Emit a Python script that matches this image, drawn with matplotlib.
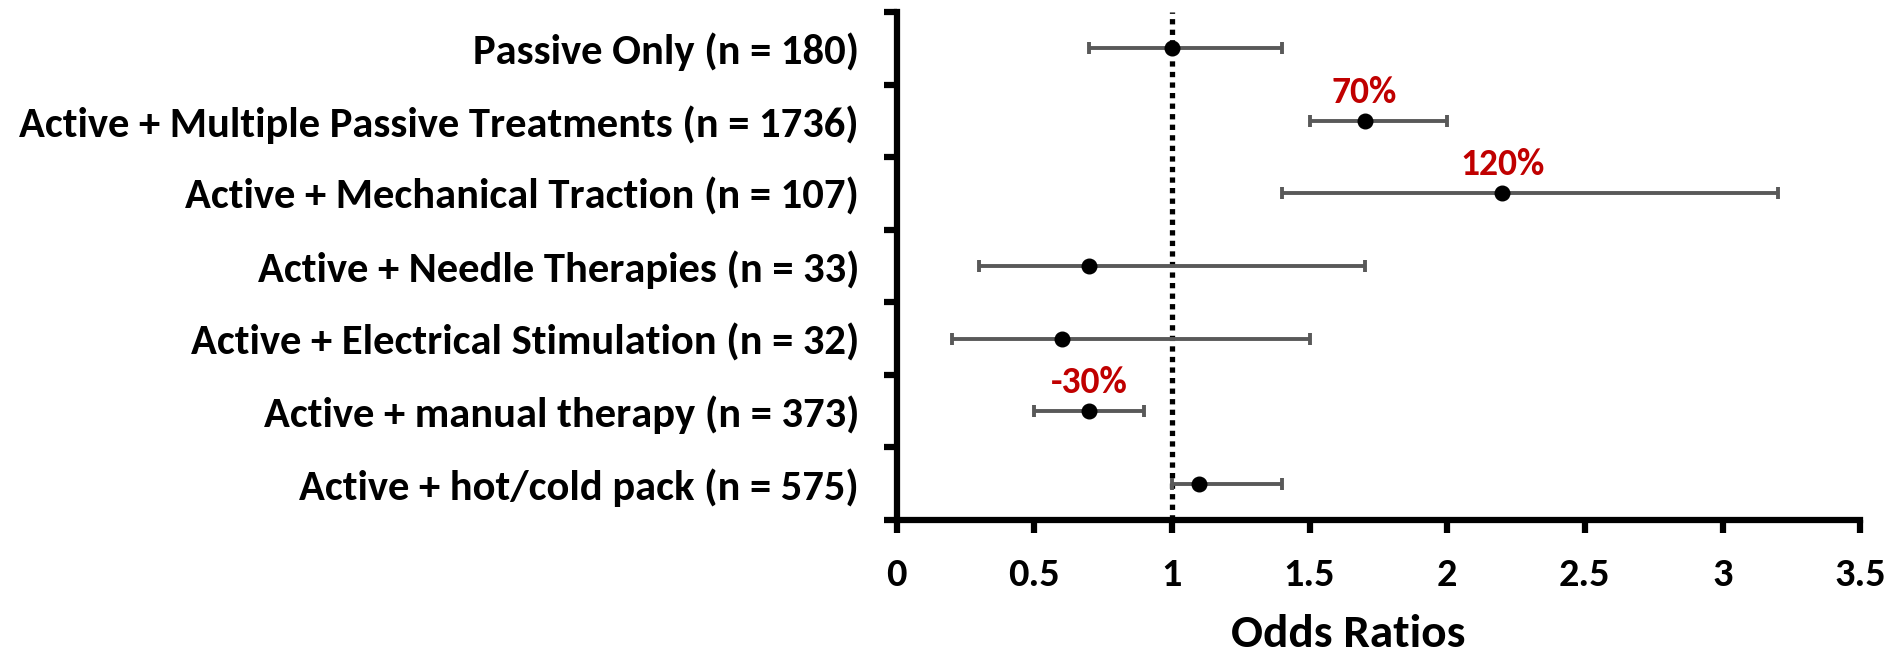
import matplotlib.pyplot as plt
import numpy as np

# data
labels = [
    "Passive Only (n = 180)",
    "Active + Multiple Passive Treatments (n = 1736)",
    "Active + Mechanical Traction (n = 107)",
    "Active + Needle Therapies (n = 33)",
    "Active + Electrical Stimulation (n = 32)",
    "Active + manual therapy (n = 373)",
    "Active + hot/cold pack (n = 575)",
]
odds = [1.0, 1.7, 2.2, 0.7, 0.6, 0.7, 1.1]
ci_low = [0.7, 1.5, 1.4, 0.3, 0.2, 0.5, 1.0]
ci_high = [1.4, 2.0, 3.2, 1.7, 1.5, 0.9, 1.4]
notes = ["", "70%", "120%", "", "", "-30%", ""]
xticks = [0, 0.5, 1, 1.5, 2, 2.5, 3, 3.5]

# Carlito is the metric twin of Calibri
plt.rcParams["font.family"] = ["Carlito", "DejaVu Sans"]
plt.rcParams["font.weight"] = "bold"

fig = plt.figure(figsize=(18.97, 6.56), dpi=100)
ax = fig.add_axes([0.4726, 0.2073, 0.508, 0.7744])

y = np.arange(len(labels))
odds = np.array(odds)
err = [odds - np.array(ci_low), np.array(ci_high) - odds]

ax.axvline(1, color="black", lw=3.8, ls=(0, (1, 1)), zorder=1)
ax.errorbar(
    odds, y, xerr=err, fmt="o", color="black", ms=10.5,
    ecolor="#595959", elinewidth=2.8, capsize=4.6, capthick=2.8, zorder=3
)
for xi, yi, txt in zip(odds, y, notes):
    if txt:
        ax.annotate(txt, (xi, yi), xytext=(0, 13), textcoords="offset points",
                    ha="center", va="baseline", color="#C00000",
                    fontsize=27, fontweight="bold")

ax.set_xlim(0, 3.5)
ax.set_ylim(len(labels) - 0.5, -0.5)
ax.set_xticks(xticks)
ax.set_xticklabels([f"{t:g}" for t in xticks], fontsize=29, fontweight="bold")
ax.set_yticks(y)
ax.set_yticklabels(labels, fontsize=30.7, fontweight="bold")
ax.set_yticks(np.arange(len(labels) + 1) - 0.5, minor=True)

ax.tick_params(axis="y", which="major", length=0, pad=27)
ax.tick_params(axis="y", which="minor", length=9.5, width=4.5, direction="out")
ax.tick_params(axis="x", which="major", length=9.5, width=4.5, direction="out", pad=18)

for s in ["top", "right"]:
    ax.spines[s].set_visible(False)
for s in ["left", "bottom"]:
    ax.spines[s].set_linewidth(4.5)

ax.set_xlabel("Odds Ratios", fontsize=34, fontweight="bold", va="baseline")
ax.xaxis.set_label_coords(0.469, -0.25)

fig.savefig("out.png", dpi=100)
